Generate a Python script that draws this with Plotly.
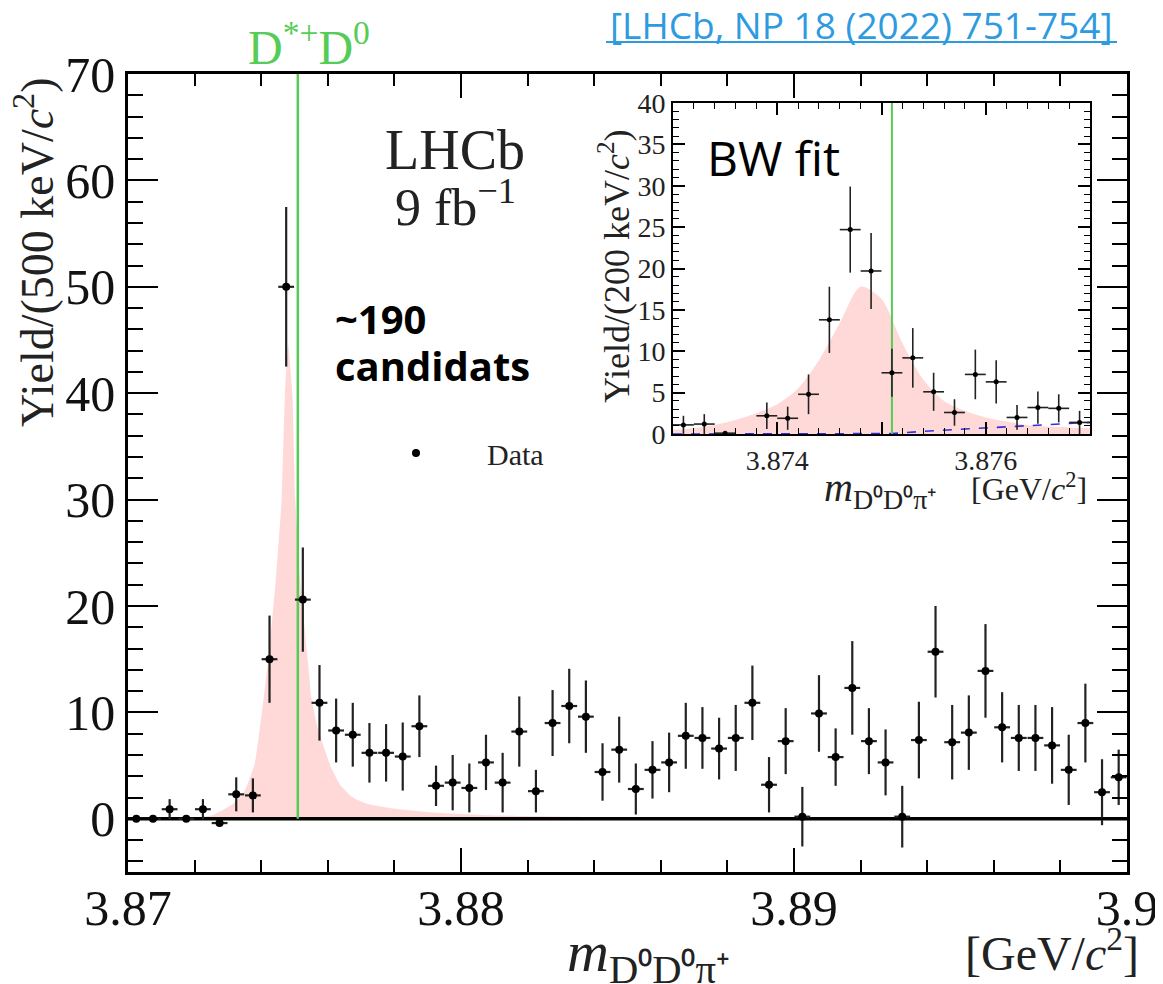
import numpy as np
import plotly.graph_objects as go

# page has an 8px body margin: build the figure 8px smaller and shift all positions
OFF = 8
W, H = 1163 - OFF, 984 - OFF

# ---------------- main histogram (500 keV bins) ----------------
main_lo, main_hi, main_bw = 3.870, 3.900, 0.0005
main_vals = [0, 0, 0.9, 0, 0.9, -0.4, 2.3, 2.2, 15.0, 50.0,
             20.6, 10.9, 8.3, 7.9, 6.2, 6.2, 5.85, 8.7, 3.1, 3.4,
             2.9, 5.3, 3.4, 8.2, 2.6, 9.0, 10.6, 9.6, 4.4, 6.5,
             2.8, 4.6, 5.3, 7.8, 7.6, 6.6, 7.6, 10.9, 3.2, 7.3,
             0.2, 9.9, 5.8, 12.3, 7.3, 5.3, 0.2, 7.4, 15.7, 7.2,
             8.1, 13.9, 8.6, 7.6, 7.6, 6.9, 4.6, 9.0, 2.5, 3.9]
main_errs = [0, 0, 0.95, 0, 0.95, 0.3, 1.6, 1.6, 4.1, 7.5,
             4.9, 3.55, 3.0, 3.0, 2.8, 2.7, 3.2, 2.9, 1.9, 2.6,
             2.3, 2.6, 2.8, 3.3, 2.0, 3.1, 3.5, 3.4, 2.7, 3.1,
             2.4, 2.7, 2.8, 3.1, 2.9, 2.9, 3.1, 3.5, 2.6, 3.1,
             2.8, 3.6, 2.7, 4.4, 3.1, 3.1, 2.9, 3.6, 4.3, 3.5,
             3.5, 4.4, 3.3, 3.1, 3.1, 3.6, 3.3, 3.7, 3.1, 2.6]
main_x = main_lo + main_bw * (np.arange(len(main_vals)) + 0.5)

# fit curve
fit_x = [3.8700, 3.8716, 3.8725, 3.87315, 3.8735, 3.87381, 3.8742, 3.87444, 3.87462,
         3.87471, 3.87481, 3.87494, 3.87502, 3.87517, 3.87541, 3.8755, 3.8757, 3.8761,
         3.87637, 3.87667, 3.87688, 3.8772, 3.8779, 3.87916, 3.88117, 3.88417, 3.8900, 3.9000]
fit_y = [0.0, 0.05, 0.3, 1.4, 2.6, 5.2, 14.6, 22.5, 30.3,
         39.7, 44.6, 39.7, 30.3, 22.5, 14.6, 11.5, 8.5, 4.8,
         3.2, 2.2, 1.8, 1.4, 1.0, 0.6, 0.3, 0.15, 0.08, 0.05]
bkg_x = [3.870, 3.900]
bkg_y = [0.0, 0.0]

threshold = 3.8751  # D*+ D0 threshold

# ---------------- inset (200 keV bins) ----------------
ins_lo, ins_hi, ins_bw = 3.873, 3.877, 0.0002
ins_vals = [1.1, 1.2, 0.1, None, 2.2, 1.9, 4.8, 13.8, 24.7, 19.7,
            7.4, 9.2, 5.1, 2.6, 7.2, 6.3, 2.0, 3.2, 3.1, 1.4]
ins_errs = [1.1, 1.2, 0.2, None, 1.6, 1.4, 2.4, 4.0, 5.2, 4.6,
            2.9, 3.6, 2.3, 1.6, 3.0, 2.6, 1.5, 1.95, 1.7, 1.4]
ins_x = ins_lo + ins_bw * (np.arange(len(ins_vals)) + 0.5)

ins_fit_x = [3.8730, 3.8732, 3.8734, 3.8736, 3.8738, 3.8740, 3.8742, 3.8744, 3.8746, 3.8748,
             3.8750, 3.8752, 3.8754, 3.8756, 3.8758, 3.8760, 3.8762, 3.8764, 3.8766, 3.8768, 3.8770]
ins_fit_y = [0.5, 0.7, 1.1, 1.7, 2.5, 3.6, 5.5, 8.9, 13.4, 17.8,
             16.3, 11.0, 6.6, 4.0, 2.8, 2.0, 1.5, 1.1, 0.9, 0.8, 0.7]
ins_bkg_x = [3.8730, 3.8748, 3.8751, 3.8755, 3.8760, 3.8765, 3.8770]
ins_bkg_y = [0.0, 0.0, 0.05, 0.4, 0.75, 1.05, 1.4]

PINK = "#ffd8d8"
GREEN = "#55cc55"
SERIF = "Liberation Serif"
SANS = "Open Sans"


def px(x):
    return (x - OFF) / W


def py(y):
    return 1 - (y - OFF) / H


fig = go.Figure()

# main plot
fig.add_trace(go.Scatter(x=fit_x, y=fit_y, mode="lines", line=dict(width=0, shape="spline", smoothing=0.4),
                         fill="tozeroy", fillcolor=PINK, showlegend=False, hoverinfo="skip",
                         xaxis="x", yaxis="y"))
fig.add_trace(go.Scatter(x=bkg_x, y=bkg_y, mode="lines", line=dict(color="black", width=3.5),
                         showlegend=False, xaxis="x", yaxis="y"))
fig.add_trace(go.Scatter(x=[threshold, threshold], y=[0, 70.5], mode="lines",
                         line=dict(color=GREEN, width=2.5), showlegend=False, cliponaxis=False,
                         xaxis="x", yaxis="y"))
fig.add_trace(go.Scatter(x=main_x, y=main_vals, mode="markers", name="Data",
                         marker=dict(color="black", size=8),
                         error_y=dict(type="data", array=main_errs, color="#222222", thickness=2.2, width=0),
                         error_x=dict(type="constant", value=main_bw / 2 * 0.95, color="#222222", thickness=2.2, width=0),
                         showlegend=True, xaxis="x", yaxis="y"))

# inset
fig.add_trace(go.Scatter(x=ins_fit_x, y=ins_fit_y, mode="lines", line=dict(width=0, shape="spline", smoothing=0.8),
                         fill="tozeroy", fillcolor=PINK, showlegend=False, xaxis="x2", yaxis="y2"))
fig.add_trace(go.Scatter(x=ins_bkg_x, y=ins_bkg_y, mode="lines",
                         line=dict(color="#3030e0", width=1.6, dash="dash"), showlegend=False,
                         xaxis="x2", yaxis="y2"))
fig.add_trace(go.Scatter(x=[threshold, threshold], y=[0, 40], mode="lines",
                         line=dict(color=GREEN, width=2), showlegend=False, xaxis="x2", yaxis="y2"))
fig.add_trace(go.Scatter(x=ins_x, y=ins_vals, mode="markers",
                         marker=dict(color="black", size=5),
                         error_y=dict(type="data", array=ins_errs, color="#222222", thickness=1.6, width=0),
                         error_x=dict(type="constant", value=ins_bw / 2, color="#222222", thickness=1.6, width=0),
                         showlegend=False, xaxis="x2", yaxis="y2"))

axis_common = dict(showline=True, linecolor="black", mirror="allticks", ticks="inside",
                   tickcolor="black", showgrid=False, zeroline=False, automargin=False)

fig.update_layout(
    width=W, height=H, margin=dict(l=0, r=0, t=0, b=0, autoexpand=False),
    paper_bgcolor="white", plot_bgcolor="white",
    xaxis=dict(domain=[px(128), px(1127)], range=[main_lo, main_hi],
               tickmode="array", tickvals=[3.87, 3.88, 3.89, 3.90], ticktext=["3.87", "3.88", "3.89", "3.9"],
               ticklen=24, tickwidth=2, linewidth=2.5, ticklabelstandoff=-10,
               minor=dict(tickmode="linear", tick0=3.87, dtick=0.002, ticklen=12, tickwidth=2, ticks="inside",
                          tickcolor="black"),
               tickfont=dict(family=SERIF, size=50, color="#111111"), anchor="y", **axis_common),
    yaxis=dict(domain=[py(872), py(74)], range=[-5, 70], dtick=10, tick0=0,
               ticklen=30, tickwidth=2, linewidth=2.5, ticklabelstandoff=0,
               minor=dict(dtick=2, ticklen=15, tickwidth=2, ticks="inside", tickcolor="black"),
               tickfont=dict(family=SERIF, size=50, color="#111111"), anchor="x", **axis_common),
    xaxis2=dict(domain=[px(673), px(1090)], range=[ins_lo, ins_hi],
                tickmode="array", tickvals=[3.873, 3.874, 3.875, 3.876, 3.877],
                ticktext=["", "3.874", "", "3.876", ""],
                ticklen=12, tickwidth=1.5, linewidth=2,
                minor=dict(tickmode="linear", tick0=3.873, dtick=0.0002, ticklen=6, tickwidth=1.2,
                           ticks="inside", tickcolor="black"),
                tickfont=dict(family=SERIF, size=28, color="#222222"), anchor="y2", **axis_common),
    yaxis2=dict(domain=[py(434), py(103)], range=[0, 40], dtick=5, tick0=0,
                ticklen=12, tickwidth=1.5, linewidth=2,
                minor=dict(dtick=1, ticklen=6, tickwidth=1.2, ticks="inside", tickcolor="black"),
                tickfont=dict(family=SERIF, size=28, color="#222222"), anchor="x2", **axis_common),
    legend=dict(x=px(345), y=py(453), xanchor="left", yanchor="middle", bgcolor="rgba(0,0,0,0)",
                font=dict(family=SERIF, size=30, color="#222222"), itemwidth=132),
)

ann = []


def A(text, x, y, size, family=SERIF, color="black", xanchor="center", yanchor="middle", angle=0):
    ann.append(dict(text=text, x=px(x), y=py(y), xref="paper", yref="paper", showarrow=False,
                    font=dict(family=family, size=size, color=color), xanchor=xanchor, yanchor=yanchor,
                    textangle=angle))


A("D<sup>*+</sup>D<sup>0</sup>", 309, 44, 48, color=GREEN)
A("[LHCb, NP 18 (2022) 751-754]", 861, 24, 37, family=SANS, color="#2e9be0")
A("LHCb", 455, 150, 56, color="#222222")
A("9 fb<sup>−1</sup>", 455, 203, 52, color="#222222")
A("<b>~190</b>", 333, 318, 40, family=SANS, xanchor="left")
A("<b>candidats</b>", 333, 365, 40, family=SANS, xanchor="left")
A("BW fit", 705, 157, 48, family=SANS, xanchor="left")
A("Yield/(500 keV/<i>c</i><sup>2</sup>)", 34, 252, 46, color="#222222", angle=-90)
A("<i>m</i><sub>D⁰D⁰π⁺</sub>", 648, 955, 58, color="#222222")
A("[GeV/<i>c</i><sup>2</sup>]", 1052, 950, 48, color="#222222")
A("Yield/(200 keV/<i>c</i><sup>2</sup>)", 614, 266, 36, color="#222222", angle=-90)
A("<i>m</i><sub>D⁰D⁰π⁺</sub>", 880, 490, 40, color="#222222")
A("[GeV/<i>c</i><sup>2</sup>]", 1029, 487, 32, color="#222222")
fig.update_layout(annotations=ann)

fig.add_shape(type="line", xref="paper", yref="paper", x0=px(606), x1=px(1117), y0=py(42), y1=py(42),
              line=dict(color="#2e9be0", width=2))

fig.write_html("out.html")
